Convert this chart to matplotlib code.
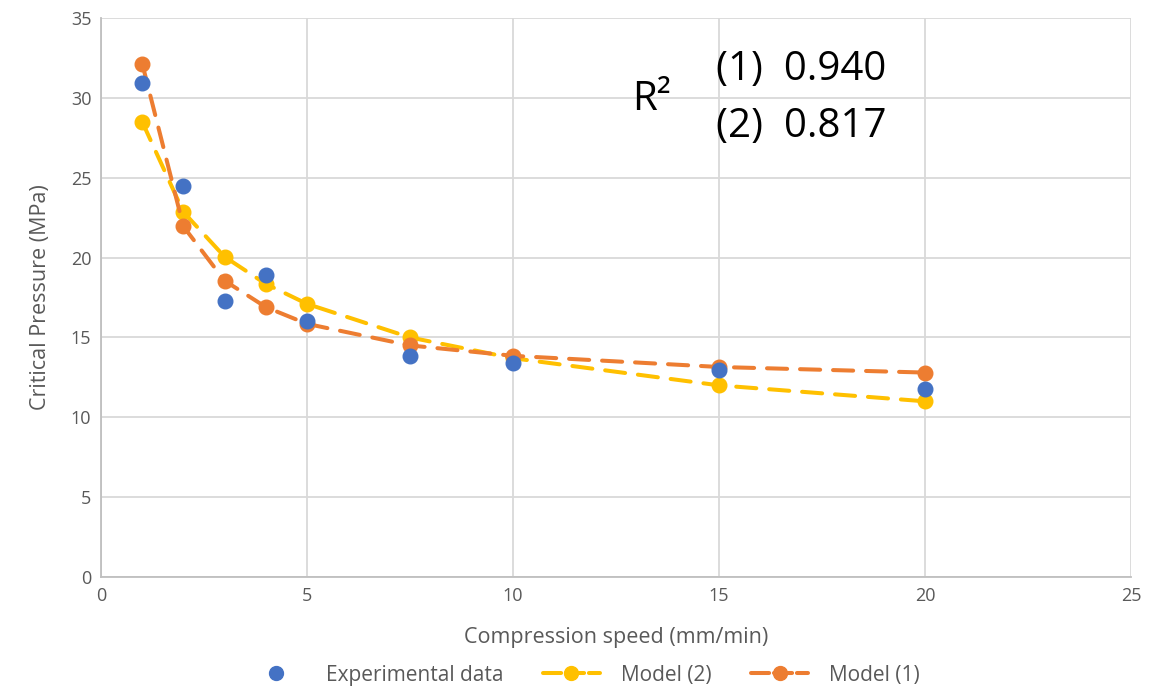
import matplotlib
matplotlib.use("Agg")
import matplotlib.pyplot as plt
from matplotlib.lines import Line2D

speed = [1, 2, 3, 4, 5, 7.5, 10, 15, 20]
experimental = [30.9, 24.5, 17.3, 18.9, 16.0, 13.85, 13.4, 12.95, 11.8]
model2 = [28.5, 22.85, 20.05, 18.35, 17.1, 15.0, 13.7, 12.0, 11.0]
model1 = [32.15, 21.95, 18.55, 16.9, 15.85, 14.5, 13.85, 13.15, 12.8]

xticks = [0, 5, 10, 15, 20, 25]
yticks = [0, 5, 10, 15, 20, 25, 30, 35]

BLUE = "#4472C4"
ORANGE = "#ED7D31"
YELLOW = "#FFC000"
GRID = "#D9D9D9"
TXT = "#595959"

plt.rcParams['font.family'] = ['Open Sans', 'DejaVu Sans']

fig = plt.figure(figsize=(11.63, 6.88), dpi=100)
ax = fig.add_axes([101/1163, 1 - 577/688, 1030/1163, 559/688])

dash = (5, 3.2)
ax.plot(speed, model2, color=YELLOW, lw=2.9, ls=(0, dash), marker='o', ms=10.5,
        dash_capstyle='round', zorder=2, label='Model (2)')
ax.plot(speed, model1, color=ORANGE, lw=2.9, ls=(0, dash), marker='o', ms=10.5,
        dash_capstyle='round', zorder=3, label='Model (1)')
ax.plot(speed, experimental, ls='none', marker='o', ms=10.5, color=BLUE, zorder=4,
        label='Experimental data')

ax.set_xlim(0, 25)
ax.set_ylim(0, 35)
ax.set_xticks(xticks)
ax.set_yticks(yticks)
ax.grid(True, color=GRID, lw=1.3)
ax.set_axisbelow(True)
for s in ['top', 'right']:
    ax.spines[s].set_visible(False)
for s in ['left', 'bottom']:
    ax.spines[s].set_color('#BFBFBF')
    ax.spines[s].set_linewidth(1.3)
ax.tick_params(length=0, labelsize=13, colors=TXT, pad=7)
ax.set_xlabel('Compression speed (mm/min)', fontsize=15.5, color=TXT, labelpad=16)
ax.set_ylabel('Critical Pressure (MPa)', fontsize=15.5, color=TXT, labelpad=14)

fig.text(652/1163, 1 - 100/688, 'R²', fontsize=29, ha='center', va='center',
         color='black')
fig.text(716/1163, 1 - 70/688, '(1)  0.940', fontsize=29, ha='left', va='center')
fig.text(716/1163, 1 - 127/688, '(2)  0.817', fontsize=29, ha='left', va='center')

handles = [
    Line2D([], [], ls='none', marker='o', ms=10, color=BLUE),
    Line2D([], [], color=YELLOW, lw=2.9, ls=(0, (4.5, 1.2)), marker='o', ms=10,
           dash_capstyle='round'),
    Line2D([], [], color=ORANGE, lw=2.9, ls=(0, (4.5, 1.2)), marker='o', ms=10,
           dash_capstyle='round'),
]
labels = ['Experimental data', 'Model (2)', 'Model (1)']
fig.legend(handles, labels, loc='center', bbox_to_anchor=(0.502, 1 - 675/688),
           ncol=3, frameon=False, fontsize=15, labelcolor=TXT,
           handlelength=2.75, columnspacing=1.9, handletextpad=1.0)

fig.savefig('out.png', dpi=100)
